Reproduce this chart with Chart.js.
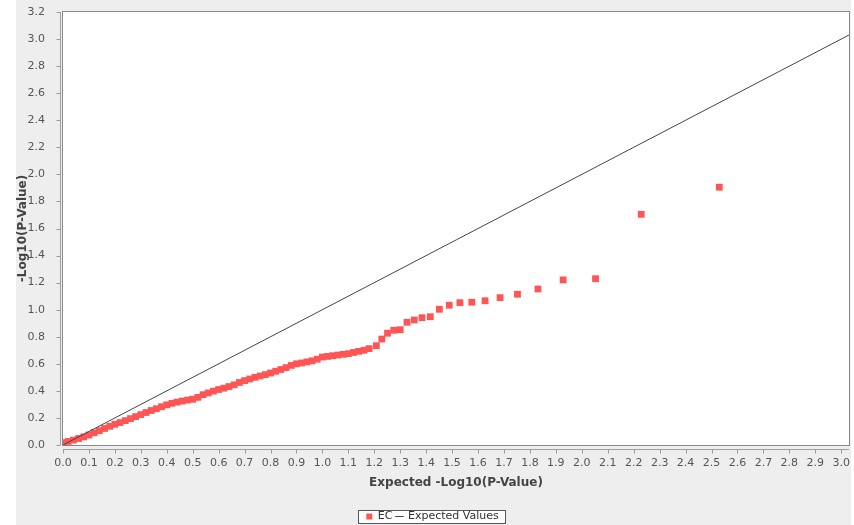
<!DOCTYPE html>
<html>
<head>
<meta charset="utf-8">
<script src="https://cdn.jsdelivr.net/npm/chart.js@4"></script>
<style>
html,body{margin:0;padding:0;background:#fff;overflow:hidden;}
#wrap{position:absolute;left:0;top:0;width:854px;height:525px;}
</style>
</head>
<body>
<div id="wrap"><canvas id="c" width="854" height="525"></canvas></div>
<script>
// ---- data ----
const seriesNames = ['EC', 'Expected Values'];
const xTitle = 'Expected -Log10(P-Value)';
const yTitle = '-Log10(P-Value)';

// EC series: expected -log10(p) (x) vs observed -log10(p) (y)
const ecX = [
  2.530, 2.229, 2.053, 1.928, 1.831, 1.752, 1.685, 1.627, 1.576, 1.530,
  1.489, 1.451, 1.416, 1.384, 1.354, 1.326, 1.300, 1.275, 1.251, 1.229, 1.208,
  1.18, 1.16, 1.14, 1.12, 1.10, 1.08, 1.06, 1.04, 1.02, 1.00,
  0.98, 0.96, 0.94, 0.92, 0.90, 0.88, 0.86, 0.84, 0.82, 0.80,
  0.78, 0.76, 0.74, 0.72, 0.70, 0.68, 0.66, 0.64, 0.62, 0.60,
  0.58, 0.56, 0.54, 0.52, 0.50, 0.48, 0.46, 0.44, 0.42, 0.40,
  0.38, 0.36, 0.34, 0.32, 0.30, 0.28, 0.26, 0.24, 0.22, 0.20,
  0.18, 0.16, 0.14, 0.12, 0.10, 0.08, 0.06, 0.04, 0.02, 0.003
];
const ecY = [
  1.905, 1.705, 1.229, 1.220, 1.153, 1.114, 1.089, 1.066, 1.055, 1.052,
  1.033, 1.003, 0.948, 0.941, 0.924, 0.907, 0.852, 0.848, 0.826, 0.783, 0.734,
  0.712, 0.700, 0.692, 0.684, 0.675, 0.670, 0.665, 0.660, 0.655, 0.650,
  0.634, 0.622, 0.614, 0.606, 0.600, 0.588, 0.572, 0.558, 0.545, 0.532,
  0.520, 0.510, 0.500, 0.488, 0.476, 0.462, 0.445, 0.432, 0.420, 0.410,
  0.398, 0.385, 0.372, 0.352, 0.338, 0.332, 0.325, 0.317, 0.308, 0.297,
  0.283, 0.268, 0.255, 0.240, 0.225, 0.210, 0.195, 0.180, 0.166, 0.153,
  0.138, 0.122, 0.106, 0.090, 0.074, 0.060, 0.048, 0.036, 0.026, 0.018
];

// Expected Values reference line (y = x)
const expectedX = [0, 3.2];
const expectedY = [0, 3.2];

// axes
const xRange = [0, 3.03];
const yRange = [0, 3.2];
const xTickValues = [0.0,0.1,0.2,0.3,0.4,0.5,0.6,0.7,0.8,0.9,1.0,1.1,1.2,1.3,1.4,1.5,
                     1.6,1.7,1.8,1.9,2.0,2.1,2.2,2.3,2.4,2.5,2.6,2.7,2.8,2.9,3.0];
const yTickValues = [0.0,0.2,0.4,0.6,0.8,1.0,1.2,1.4,1.6,1.8,2.0,2.2,2.4,2.6,2.8,3.0,3.2];

// ---- chart ----
const FONT = "'DejaVu Sans', sans-serif";
Chart.defaults.font.family = FONT;

const LEGEND_SHIFT = 17;

const framePlugin = {
  id: 'frame',
  afterLayout(chart) {
    const lg = chart.legend;
    if (lg) { lg.top += LEGEND_SHIFT; lg.bottom += LEGEND_SHIFT; }
  },
  beforeDraw(chart) {
    const {ctx, chartArea: a} = chart;
    ctx.save();
    ctx.fillStyle = '#ffffff';
    ctx.fillRect(0, 0, chart.width, chart.height);
    ctx.fillStyle = '#eeeeee';
    ctx.fillRect(16, 0, 835, chart.height);
    ctx.fillStyle = '#ffffff';
    ctx.fillRect(a.left, a.top, a.right - a.left, a.bottom - a.top);
    // legend frame
    const lg = chart.legend;
    if (lg && lg.legendHitBoxes && lg.legendHitBoxes.length) {
      const hb = lg.legendHitBoxes;
      const l = Math.min(...hb.map(h => h.left)) - 8;
      const r = Math.max(...hb.map(h => h.left + h.width)) + 7;
      const t = Math.min(...hb.map(h => h.top)) - 1;
      const b = Math.max(...hb.map(h => h.top + h.height)) + 1;
      ctx.fillStyle = '#ffffff';
      ctx.fillRect(Math.round(l), Math.round(t), Math.round(r - l), Math.round(b - t));
      ctx.strokeStyle = '#555555';
      ctx.lineWidth = 1;
      ctx.strokeRect(Math.round(l) + 0.5, Math.round(t) + 0.5, Math.round(r - l), Math.round(b - t));
    }
    ctx.restore();
  },
  afterDraw(chart) {
    const {ctx, chartArea: a, scales} = chart;
    ctx.save();
    ctx.lineWidth = 1;
    // plot outline
    ctx.strokeStyle = '#8a8a8a';
    ctx.strokeRect(Math.round(a.left) - 0.5, Math.round(a.top) - 0.5,
                   Math.round(a.right - a.left) + 1, Math.round(a.bottom - a.top) + 1);
    // axis lines (offset like the original)
    ctx.strokeStyle = '#a0a0a0';
    const xl = Math.round(a.bottom) + 4.5;
    ctx.beginPath(); ctx.moveTo(a.left, xl); ctx.lineTo(a.right, xl); ctx.stroke();
    const yl = Math.round(a.left) - 2.5;
    ctx.beginPath(); ctx.moveTo(yl, a.top); ctx.lineTo(yl, a.bottom); ctx.stroke();
    // tick marks
    ctx.strokeStyle = '#9a9a9a';
    scales.x.ticks.forEach(t => {
      const px = Math.round(scales.x.getPixelForValue(t.value)) + 0.5;
      ctx.beginPath(); ctx.moveTo(px, xl); ctx.lineTo(px, xl + 4); ctx.stroke();
    });
    scales.y.ticks.forEach(t => {
      const py = Math.round(scales.y.getPixelForValue(t.value)) + 0.5;
      ctx.beginPath(); ctx.moveTo(yl, py); ctx.lineTo(yl - 4, py); ctx.stroke();
    });
    ctx.restore();
  }
};

new Chart(document.getElementById('c'), {
  type: 'scatter',
  data: {
    datasets: [
      {
        label: seriesNames[0],
        data: ecX.map((x, i) => ({x: x, y: ecY[i]})),
        pointStyle: 'rect',
        pointRadius: 4.8,
        pointHoverRadius: 4.8,
        backgroundColor: '#ff5555',
        borderColor: '#ff5555',
        borderWidth: 0,
        order: 2
      },
      {
        label: seriesNames[1],
        data: expectedX.map((x, i) => ({x: x, y: expectedY[i]})),
        showLine: true,
        pointRadius: 0,
        pointHoverRadius: 0,
        pointStyle: 'line',
        borderColor: '#444444',
        backgroundColor: '#444444',
        borderWidth: 1,
        fill: false,
        order: 1
      }
    ]
  },
  options: {
    responsive: false,
    animation: false,
    devicePixelRatio: 1,
    events: [],
    layout: { padding: { left: 16, right: 5, top: 12, bottom: 10 } },
    plugins: {
      tooltip: { enabled: false },
      legend: {
        position: 'bottom',
        align: 'center',
        labels: {
          usePointStyle: true,
          boxWidth: 6,
          boxHeight: 6,
          padding: 4,
          color: '#333333',
          font: { size: 11, family: FONT },
          sort: (a, b) => a.datasetIndex - b.datasetIndex
        }
      }
    },
    scales: {
      x: {
        type: 'linear',
        min: xRange[0],
        max: xRange[1],
        afterBuildTicks: s => { s.ticks = xTickValues.map(v => ({value: v})); },
        afterFit: s => { s.height = 45; s.paddingLeft = 0; s.paddingRight = 0; },
        grid: { display: false },
        border: { display: false },
        ticks: {
          autoSkip: false,
          maxRotation: 0,
          padding: 4,
          color: '#555555',
          font: { size: 11, family: FONT },
          callback: v => Number(v).toFixed(1)
        },
        title: {
          display: true,
          text: xTitle,
          color: '#444444',
          font: { size: 12, weight: 'bold', family: FONT },
          padding: { top: 0, bottom: 0 }
        }
      },
      y: {
        type: 'linear',
        min: yRange[0],
        max: yRange[1],
        afterBuildTicks: s => { s.ticks = yTickValues.map(v => ({value: v})); },
        afterFit: s => { s.width = 47; s.paddingTop = 0; s.paddingBottom = 0; },
        grid: { display: false },
        border: { display: false },
        ticks: {
          autoSkip: false,
          padding: 10,
          color: '#555555',
          font: { size: 11, family: FONT },
          callback: v => Number(v).toFixed(1)
        },
        title: {
          display: true,
          text: yTitle,
          color: '#444444',
          font: { size: 12, weight: 'bold', family: FONT },
          padding: { top: 0, bottom: 0 }
        }
      }
    }
  },
  plugins: [framePlugin]
});
</script>
</body>
</html>
